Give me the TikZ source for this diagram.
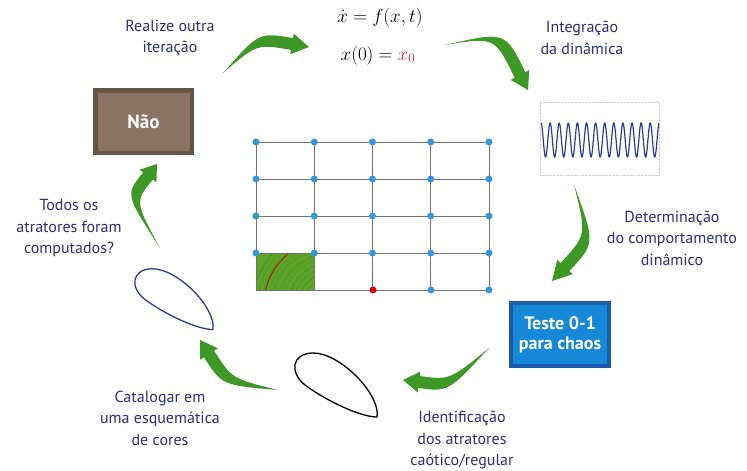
\documentclass[tikz,border=0pt]{standalone}
\usepackage{fix-cm}
\usepackage{fontspec}
\setmainfont{PT Sans}
\definecolor{LabelText}{RGB}{46,45,125}
\definecolor{ArrowGreen}{RGB}{62,152,38}
\definecolor{GridDot}{RGB}{52,152,219}
\definecolor{GridLine}{RGB}{115,115,115}
\definecolor{NaoBorder}{RGB}{100,85,70}
\definecolor{NaoFill}{RGB}{140,116,100}
\definecolor{TesteBorder}{RGB}{25,90,170}
\definecolor{TesteFill}{RGB}{22,136,216}
\definecolor{WaveBlue}{RGB}{42,62,150}
\definecolor{PatchGreen}{RGB}{92,165,38}
\definecolor{InitRed}{RGB}{235,30,60}
\usetikzlibrary{calc}

% Seta curva verde: cauda, controle, base da ponta, ponta
\newcommand{\setacurva}[4]{%
  \coordinate (cauda) at #1;
  \coordinate (ctrl) at #2;
  \coordinate (base) at #3;
  \coordinate (ponta) at #4;
  \coordinate (e1) at ($(base)!6pt!90:(ponta)$);
  \coordinate (e2) at ($(base)!6pt!-90:(ponta)$);
  \coordinate (c1) at ($(ctrl)+(e1)-(base)$);
  \coordinate (c2) at ($(ctrl)+(e2)-(base)$);
  \fill[ArrowGreen] (cauda)
    .. controls (c1) .. (e1)
    -- ($(base)!10.5pt!90:(ponta)$) -- (ponta)
    -- ($(base)!10.5pt!-90:(ponta)$) -- (e2)
    .. controls (c2) .. (cauda) -- cycle;
}

\begin{document}
\begin{tikzpicture}[x=1pt, y=-1pt,
  rotulo/.style={text=LabelText, align=center, font=\fontsize{16}{21.5}\selectfont},
  formula/.style={anchor=base, font=\fontsize{19}{22}\selectfont},
  caixa/.style={line width=4.5pt, text=white, align=center,
    font=\fontsize{18}{20}\selectfont\bfseries},
  ponto/.style={circle, fill=GridDot, inner sep=0pt, minimum size=7pt},
  atrator/.pic={
    \draw[line width=1.3pt] (82,49) .. controls (86,27) and (45,-16) .. (17,-15)
      .. controls (-3,-14) and (-6,4) .. (10,17)
      .. controls (30,32) and (65,49) .. (82,49) -- cycle;
  }]

\useasboundingbox (0,0) rectangle (747,471);

% Equacao e condicao inicial
\node[formula] (eqdif) at (380,23) {$\dot{x} = f(x,t)$};
\node[formula] (cinicial) at (378,60) {$x(0) = \textcolor{InitRed}{x_0}$};

% Rotulos
\node[rotulo] (iteracao) at (170,38) {Realize outra\\iteração};
\node[rotulo] (integracao) at (582,38) {Integração\\da dinâmica};
\node[rotulo] (determinacao) at (672,238) {Determinação\\do comportamento\\dinâmico};
\node[rotulo] (identificacao) at (462,440) {Identificação\\dos atratores\\caótico/regular};
\node[rotulo] (catalogar) at (160,418) {Catalogar em\\uma esquemática\\de cores};
\node[rotulo] (todos) at (69,228) {Todos os\\atratores foram\\computados?};

% Caixas
\node[caixa, font=\fontsize{19}{20}\selectfont\bfseries, draw=NaoBorder, fill=NaoFill, minimum width=96.5pt, minimum height=62.5pt] (nao) at (143.5,121.5) {Não};
\node[caixa, line width=4pt, draw=TesteBorder, fill=TesteFill, minimum width=98pt, minimum height=63pt] (teste) at (560,334.5) {Teste 0-1\\para chaos};

% Serie temporal
\node[draw=gray!40, densely dotted, minimum width=119pt, minimum height=73pt, inner sep=0pt] (sinal) at (599.5,138.5) {};
\draw[WaveBlue, line width=1.2pt] plot[domain=0:118, samples=400] ({541+\x},{140-17*cos(39.56*\x)});

% Malha de condicoes iniciais
\begin{scope}
  \clip (256,253) rectangle (314,290);
  \fill[PatchGreen] (256,253) rectangle (314,290);
  \foreach \r in {12,17,...,80}
    \draw[green!35!black, line width=0.4pt, opacity=0.25] (330,305) circle (\r);
  \foreach \r in {14,23,...,80}
    \draw[blue!60!gray, line width=0.4pt, opacity=0.45, dash pattern=on 1pt off 1.5pt] (330,305) circle (\r);
  \draw[red!80!black, line width=0.8pt] (330,305) circle (66);
\end{scope}
\foreach \i in {0,...,4} {
  \draw[GridLine, line width=1pt] (256,142+37*\i) -- (489,142+37*\i);
  \draw[GridLine, line width=1pt] (256+58.25*\i,142) -- (256+58.25*\i,290);
}
\foreach \i in {0,...,4}
  \foreach \j in {0,...,3}
    \node[ponto] (p\i\j) at (256+58.25*\i,142+37*\j) {};
\node[ponto] (p34) at (431,290) {};
\node[ponto] (p44) at (489,290) {};
\node[ponto, fill=red!85!black] (p24) at (373,290) {};

% Atratores
\pic[black] at (295,368) {atrator};
\pic[WaveBlue, scale=0.95] at (135,283) {atrator};

% Setas do ciclo
\setacurva{(223,73)}{(258,38)}{(292,44)}{(309,47)};
\setacurva{(445,45)}{(500,34)}{(520,75)}{(528,90)};
\setacurva{(574,185)}{(591,239)}{(565,267)}{(552,281)};
\setacurva{(489,348)}{(449,386)}{(419,382)}{(403,380)};
\setacurva{(278,390)}{(227,382)}{(209,354)}{(200,340)};
\setacurva{(160,248)}{(130,198)}{(148,176)}{(157,164)};

\end{tikzpicture}
\end{document}
